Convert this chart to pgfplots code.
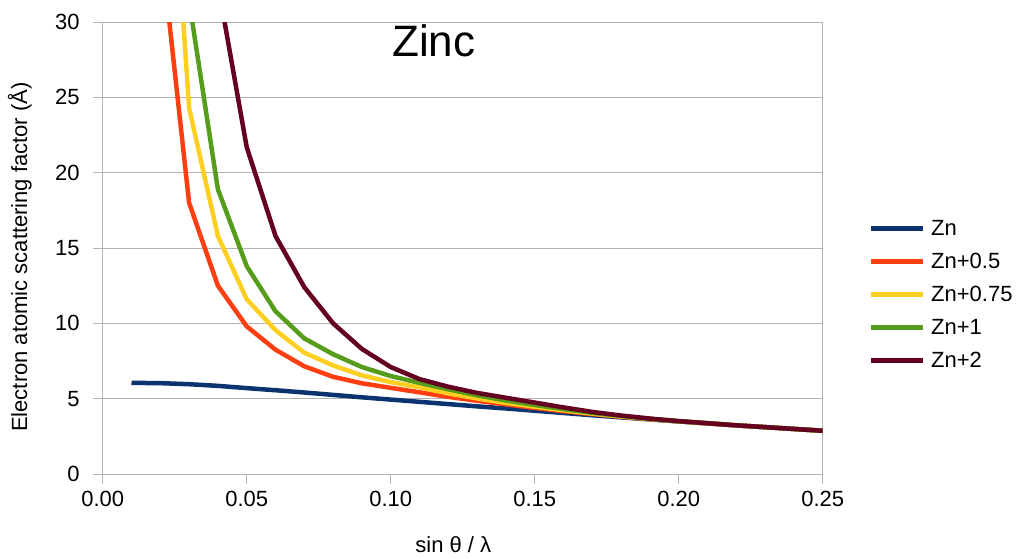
\documentclass[border=0pt]{standalone}
\usepackage{fontspec}
\setmainfont{Liberation Sans}
\usepackage{pgfplots}
\usepackage{pgfplotstable}
\pgfplotsset{compat=1.18}
\definecolor{czn}{HTML}{0A3370}
\definecolor{cr}{HTML}{FF3F12}
\definecolor{cy}{HTML}{FCCF22}
\definecolor{cg}{HTML}{579D1C}
\definecolor{cd}{HTML}{640020}
\definecolor{cgrid}{HTML}{B3B3B3}

\pgfplotstableread{
s    zn   r    y    g    d
0.01 6.05 nan  nan  nan  nan
0.02 6.03 35.5 52.8 70.0 nan
0.03 5.96 18.0 24.3 31.4 60.0
0.04 5.85 12.5 15.8 18.9 32.5
0.05 5.70 9.80 11.6 13.8 21.7
0.06 5.56 8.25 9.55 10.8 15.8
0.07 5.41 7.15 8.05 9.00 12.4
0.08 5.25 6.45 7.20 7.95 10.0
0.09 5.09 6.02 6.55 7.10 8.30
0.10 4.94 5.72 6.10 6.50 7.10
0.11 4.79 5.42 5.75 6.05 6.30
0.12 4.64 5.12 5.35 5.62 5.79
0.13 4.49 4.86 5.02 5.22 5.38
0.14 4.35 4.62 4.72 4.88 5.06
0.15 4.20 4.39 4.47 4.58 4.74
0.16 4.05 4.17 4.23 4.31 4.42
0.17 3.90 3.98 4.01 4.06 4.12
0.18 3.76 3.80 3.82 3.85 3.88
0.19 3.62 3.64 3.65 3.66 3.68
0.20 3.49 3.50 3.50 3.50 3.51
0.21 3.36 3.36 3.37 3.37 3.37
0.22 3.23 3.23 3.23 3.23 3.23
0.23 3.11 3.11 3.11 3.11 3.11
0.24 2.99 2.99 2.99 2.99 2.99
0.25 2.87 2.87 2.87 2.87 2.87
}\data

\begin{document}
\begin{tikzpicture}
\begin{axis}[
  at={(0,0)}, anchor=south west,
  scale only axis, width=360pt, height=226pt,
  xmin=0, xmax=0.25, ymin=0, ymax=30,
  xtick={0,0.05,0.10,0.15,0.20,0.25},
  ytick={0,5,10,15,20,25,30},
  scaled x ticks=false,
  axis line style={draw=cgrid, line width=0.5pt},
  ymajorgrids, grid style={draw=cgrid, line width=0.5pt},
  tick align=outside, xtick pos=left, ytick pos=left,
  major tick length=5pt,
  tick style={draw=cgrid, line width=0.5pt},
  /pgf/number format/assume math mode=true,
  ticklabel style={font=\fontsize{11}{13}\selectfont},
  xticklabel style={/pgf/number format/.cd, fixed, fixed zerofill, precision=2},
  yticklabel style={xshift=-3pt},
  every axis y label/.style={at={(axis description cs:-0.115,0.48)}, rotate=90, anchor=center, font=\fontsize{11}{13}\selectfont},
  every axis x label/.style={at={(axis description cs:0.487,-0.157)}, anchor=center, font=\fontsize{11}{13}\selectfont},
  xlabel={sin θ / λ},
  ylabel={Electron atomic scattering factor (Å)},
  title={Zinc},
  title style={at={(axis description cs:0.46,0.8976)}, anchor=base, font=\fontsize{22}{26}\selectfont},
  legend style={draw=none, fill=none, at={(axis description cs:1.055,0.573)}, anchor=north west,
    font=\fontsize{11}{13}\selectfont, row sep=6.5pt,
    nodes={inner sep=0pt, text height=8pt, text depth=2pt, anchor=base west}},
  legend cell align=left,
  legend image code/.code={\draw[#1, line width=2.25pt] (0pt,3.5pt) -- (26pt,3.5pt); \path (29pt,3.5pt);},
  every axis plot/.append style={line width=2.25pt, line join=round, mark=none},
]
\addplot[czn] table[x=s, y=zn] {\data};
\addplot[cr] table[x=s, y=r] {\data};
\addplot[cy] table[x=s, y=y] {\data};
\addplot[cg] table[x=s, y=g] {\data};
\addplot[cd] table[x=s, y=d] {\data};
\legend{Zn, Zn+0.5, Zn+0.75, Zn+1, Zn+2}
\end{axis}
\pgfresetboundingbox
\path[use as bounding box] (-51.35pt,-42pt) rectangle (457.15pt,237pt);
\end{tikzpicture}
\end{document}
